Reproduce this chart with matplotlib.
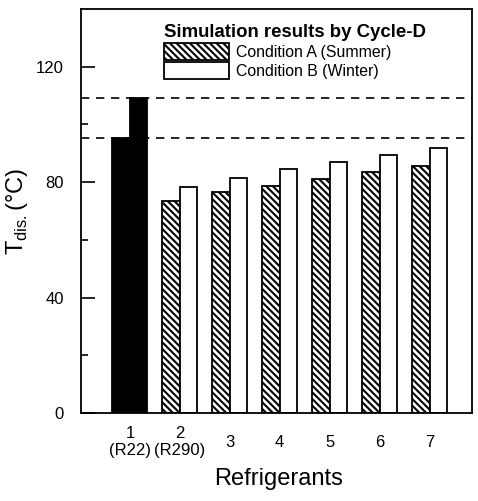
import numpy as np
import matplotlib.pyplot as plt
from matplotlib.patches import Patch

plt.rcParams['font.family'] = ['Liberation Sans', 'DejaVu Sans']
plt.rcParams['mathtext.fontset'] = 'custom'
plt.rcParams['mathtext.rm'] = 'Liberation Sans'
plt.rcParams['hatch.linewidth'] = 1.5

# Datos
refrigerants = ['1\n(R22)', '2\n(R290)', '3', '4', '5', '6', '7']
cond_a = [95.3, 73.4, 76.5, 78.6, 81.0, 83.5, 85.6]   # Condition A (Summer)
cond_b = [109.2, 78.3, 81.4, 84.5, 87.0, 89.5, 91.8]  # Condition B (Winter)
ref_lines = [cond_a[0], cond_b[0]]                    # niveles de R22
y_major = [0, 40, 80, 120]
y_minor = [20, 60, 100]

x = np.arange(1, len(refrigerants) + 1)
w = 0.35
hatch_a = '\\' * 5

fig = plt.figure(figsize=(4.78, 5.01), dpi=100)
ax = fig.add_axes([0.1695, 0.1756, 0.8179, 0.8064])

bars_a = ax.bar(x - w/2, cond_a, w, facecolor='white', edgecolor='black',
                linewidth=1.3, hatch=hatch_a)
bars_b = ax.bar(x + w/2, cond_b, w, facecolor='white', edgecolor='black',
                linewidth=1.3)
# R22 en negro
for p in (bars_a.patches[0], bars_b.patches[0]):
    p.set_facecolor('black')
    p.set_hatch(None)

for v in ref_lines:
    ax.axhline(v, color='black', linestyle=(0, (5, 4)), linewidth=1.2)

ax.set_xlim(0.02, 7.85)
ax.set_ylim(0, 140)
ax.set_xticks(x)
ax.set_xticklabels(refrigerants, fontsize=12)
for lab in ax.get_xticklabels():
    lab.set_verticalalignment('center')
ax.tick_params(axis='x', length=0, pad=21)
ax.set_yticks(y_major)
ax.set_yticks(y_minor, minor=True)
ax.tick_params(axis='y', which='major', direction='in', length=10, width=1.2,
               labelsize=12, pad=12.5)
ax.tick_params(axis='y', which='minor', direction='in', length=5, width=1.2)
for s in ax.spines.values():
    s.set_linewidth(1.3)

ax.set_xlabel('Refrigerants', fontsize=17)
ax.xaxis.set_label_coords(0.504, -0.135)
ax.set_ylabel(r'T$_{\rm dis.}$(°C)', fontsize=17)
ax.yaxis.set_label_coords(-0.13, 0.5)

handles = [Patch(facecolor='white', edgecolor='black', linewidth=1.3, hatch=hatch_a),
           Patch(facecolor='white', edgecolor='black', linewidth=1.3)]
ax.legend(handles, ['Condition A (Summer)', 'Condition B (Winter)'],
          title='Simulation results by Cycle-D',
          title_fontproperties={'weight': 'bold', 'size': 13.4},
          alignment='left', loc='upper left', bbox_to_anchor=(0.212, 0.962),
          frameon=False, fontsize=11.4, handlelength=4.1, handleheight=1.3,
          handletextpad=0.45, labelspacing=0.1, borderpad=0, borderaxespad=0)

plt.savefig('out.png', dpi=100)
